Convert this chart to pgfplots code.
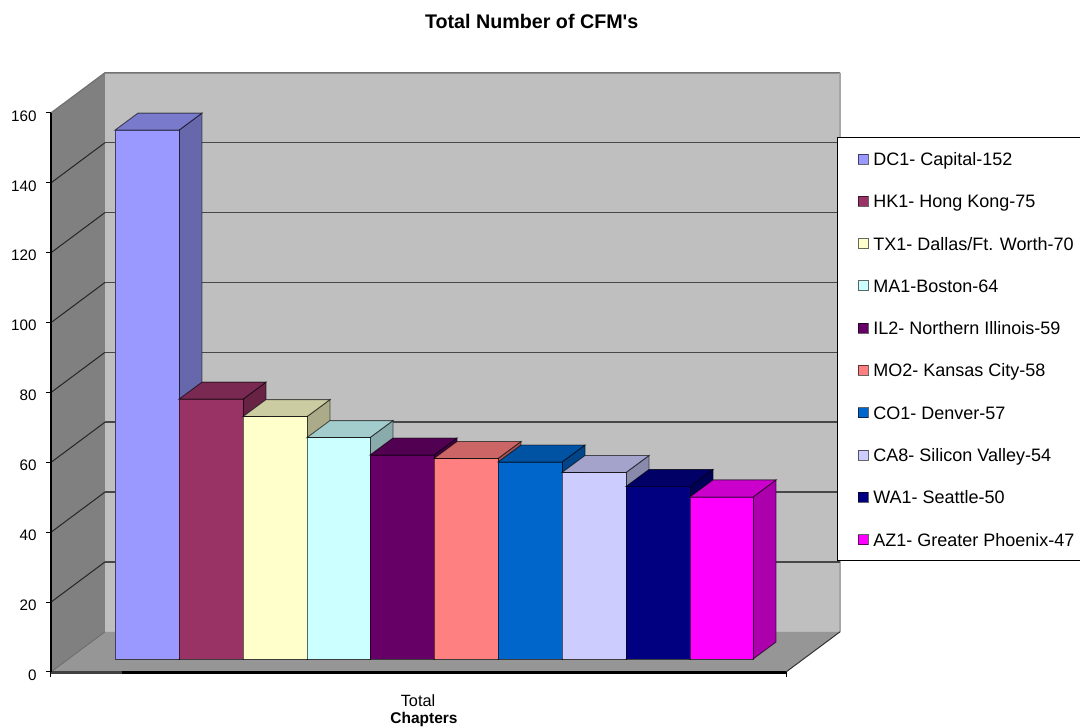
\documentclass[border=0pt]{standalone}
\usepackage{fontspec}
\setmainfont{Liberation Sans}
\newfontfamily\ttl{Liberation Sans}
\usepackage{pgfplots}
\pgfplotsset{compat=1.18}
\definecolor{cA}{HTML}{9999FF}
\definecolor{cB}{HTML}{993366}
\definecolor{cC}{HTML}{FFFFCC}
\definecolor{cD}{HTML}{CCFFFF}
\definecolor{cE}{HTML}{660066}
\definecolor{cF}{HTML}{FF8080}
\definecolor{cG}{HTML}{0066CC}
\definecolor{cH}{HTML}{CCCCFF}
\definecolor{cI}{HTML}{000080}
\definecolor{cJ}{HTML}{FF00FF}
% #1 left x, #2 right x, #3 value, #4 colour
\newcommand\chartbar[4]{%
  \addplot[forget plot,fill=#4!67!black,draw=black,draw opacity=.6,line width=.9pt]
    coordinates {(#2,3.7) (#2,{#3+3.1}) (#2+23,{#3+3.1+4.87}) (#2+23,{3.7+4.87})} --cycle;
  \addplot[forget plot,fill=#4!80!black,draw=black,draw opacity=.6,line width=.9pt]
    coordinates {(#1,{#3+3.1}) (#1+23,{#3+3.1+4.87}) (#2+23,{#3+3.1+4.87}) (#2,{#3+3.1})} --cycle;
  \addplot[fill=#4,draw=black,draw opacity=.6,line width=.9pt]
    coordinates {(#1,3.7) (#1,{#3+3.1}) (#2,{#3+3.1}) (#2,3.7)} --cycle;
}
\begin{document}
\begin{tikzpicture}
\begin{axis}[
  scale only axis, width=735pt, height=559pt,
  xmin=51, xmax=786, ymin=0, ymax=160,
  clip=false, axis on top=true,
  axis x line=bottom, axis y line=left,
  axis line style={-, black, line width=1.3pt},
  x axis line style={draw=none},
  tick align=outside, major tick length=5pt,
  tick style={black, line width=1pt},
  font=\fontsize{15}{18}\selectfont,
  /pgf/number format/assume math mode=true,
  ytick={0,20,40,60,80,100,120,140,160},
  yticklabel style={xshift=-6pt, yshift=-3pt, font=\fontsize{15.2}{18}\selectfont},
  xtick={51,786}, xticklabels={,},
  extra x ticks={418},
  extra x tick labels={Total},
  extra x tick style={major tick length=0pt, tick style={draw=none},
    xticklabel style={yshift=-19pt, font=\fontsize{16.3}{18}\selectfont}},
  xlabel={\textbf{Chapters}},
  xlabel style={at={(axis description cs:0.5075,-0.0841)}, anchor=center, font=\fontsize{15.5}{18}\selectfont},
  title={\ttl\bfseries Total Number of CFM's},
  title style={at={(axis description cs:0.654,1.1525)}, anchor=center, font=\fontsize{19.7}{22}\selectfont},
  legend cell align=left,
  legend style={at={(axis cs:837,153)}, anchor=north west, draw=black, line width=1pt, fill=white,
    font=\fontsize{18}{20}\selectfont, inner xsep=20pt, inner ysep=13.5pt,
    row sep=27.3pt, column sep=5pt,
    nodes={inner sep=0pt, text height=14pt, text depth=1pt}},
  legend image code/.code={\draw[#1,draw=black,line width=.8pt] (0pt,-5pt) rectangle (10pt,5pt);},
]
% walls and floor
\addplot[forget plot,fill=black!50,draw=none] coordinates {(51,0)(51,160)(105,171.5)(105,11.5)} --cycle;
\addplot[forget plot,fill=black!25,draw=none] coordinates {(105,11.5)(105,171.5)(840,171.5)(840,11.5)} --cycle;
\addplot[forget plot,fill=black!41,draw=none] coordinates {(51,0)(105,11.5)(840,11.5)(786,0)} --cycle;
\addplot[forget plot,black!55,line width=1.4pt] coordinates {(51,160)(105,171.5)(840,171.5)};
\addplot[forget plot,black!35,line width=1.2pt] coordinates {(840,171.5)(840,11.5)};
\addplot[forget plot,black!80,line width=1pt] coordinates {(786,0)(840,11.5)};
\addplot[forget plot,black!60,line width=.7pt] coordinates {(51,0)(105,11.5)};
\pgfplotsinvokeforeach{20,40,60,80,100,120,140}{
  \addplot[forget plot,black!85,line width=1pt] coordinates {(51,#1)(105,{#1+11.5})};
  \addplot[forget plot,black!72,line width=1.5pt] coordinates {(105,{#1+11.5})(840,{#1+11.5})};
}
\addplot[forget plot,black,line width=1.3pt] coordinates {(51,0)(51,160)};
\addplot[forget plot,black!75,line width=3pt] coordinates {(51,-0.1)(122,-0.1)};
\addplot[forget plot,black,line width=3pt] coordinates {(122,-0.1)(786,-0.1)};
% bars
\chartbar{115}{179}{152}{cA}
\chartbar{179}{243}{75}{cB}
\chartbar{243}{307}{70}{cC}
\chartbar{307}{370}{64}{cD}
\chartbar{370}{434}{59}{cE}
\chartbar{434}{498}{58}{cF}
\chartbar{498}{562}{57}{cG}
\chartbar{562}{626}{54}{cH}
\chartbar{626}{690}{50}{cI}
\chartbar{690}{753}{47}{cJ}
\legend{DC1- Capital-152,HK1- Hong Kong-75,TX1- Dallas/Ft. Worth-70,MA1-Boston-64,IL2- Northern Illinois-59,MO2- Kansas City-58,CO1- Denver-57,CA8- Silicon Valley-54,WA1- Seattle-50,AZ1- Greater Phoenix-47}
\end{axis}
\pgfresetboundingbox
\path[use as bounding box] (-51pt,-56pt) rectangle (1029pt,672pt);
\end{tikzpicture}
\end{document}
